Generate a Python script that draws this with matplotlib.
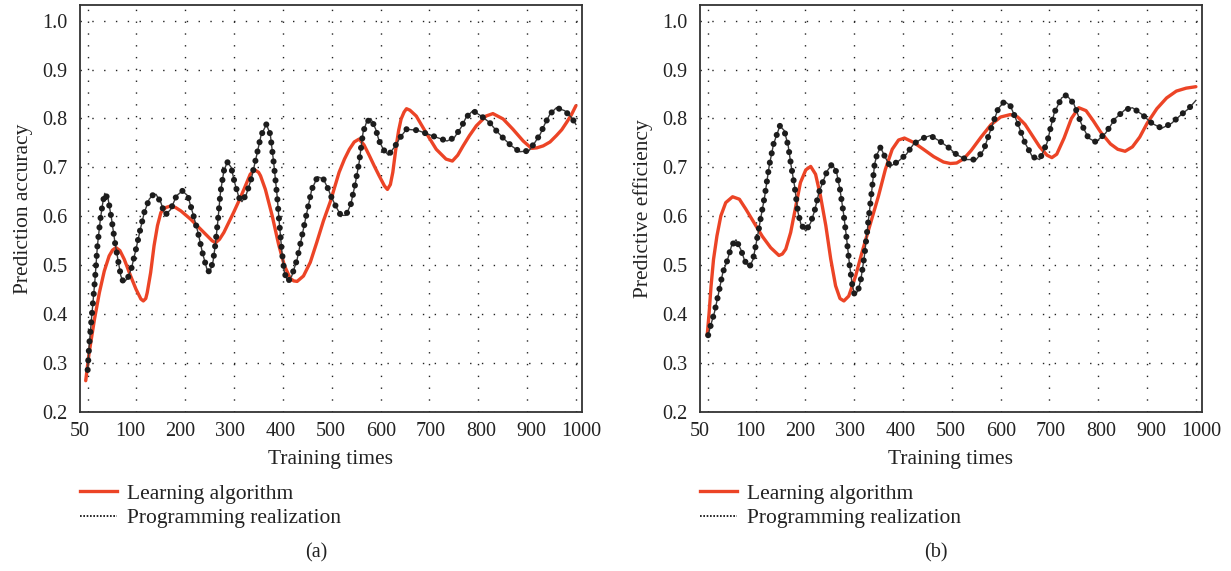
import matplotlib
matplotlib.use("Agg")
import matplotlib.pyplot as plt
from matplotlib.lines import Line2D

# ---------------- data (x = position along the tick scale, 0 = "50", 10 = "1000") -------------
tick_labels = ["50", "100", "200", "300", "400", "500", "600", "700", "800", "900", "1000"]
y_ticks = [0.2, 0.3, 0.4, 0.5, 0.6, 0.7, 0.8, 0.9, 1.0]

x_learn_a = [-0.04, 0.03, 0.14, 0.24, 0.34, 0.44, 0.51, 0.58, 0.66, 0.75, 0.88, 0.99, 1.09, 1.14,
             1.19, 1.22, 1.29, 1.36, 1.43, 1.50, 1.60, 1.70, 1.80, 1.91, 2.11, 2.31, 2.45, 2.55,
             2.62, 2.70, 2.79, 2.99, 3.10, 3.20, 3.33, 3.42, 3.50, 3.54, 3.64, 3.78, 3.91, 4.03,
             4.15, 4.22, 4.29, 4.42, 4.56, 4.69, 4.83, 4.97, 5.06, 5.15, 5.26, 5.36, 5.46, 5.56,
             5.66, 5.77, 5.87, 5.97, 6.08, 6.14, 6.20, 6.25, 6.32, 6.37, 6.42, 6.48, 6.53, 6.60,
             6.73, 6.93, 7.14, 7.34, 7.47, 7.58, 7.69, 7.82, 7.96, 8.16, 8.30, 8.51, 8.71, 8.92,
             9.09, 9.20, 9.33, 9.47, 9.60, 9.71, 9.81, 9.91, 10.0]
y_learn_a = [0.264, 0.321, 0.390, 0.444, 0.488, 0.519, 0.531, 0.536, 0.530, 0.512, 0.478, 0.451,
             0.431, 0.427, 0.432, 0.444, 0.485, 0.540, 0.581, 0.608, 0.618, 0.621, 0.618, 0.611,
             0.594, 0.574, 0.560, 0.550, 0.546, 0.553, 0.567, 0.608, 0.632, 0.655, 0.686, 0.695,
             0.690, 0.683, 0.655, 0.601, 0.543, 0.499, 0.473, 0.468, 0.467, 0.478, 0.506, 0.546,
             0.591, 0.630, 0.660, 0.690, 0.717, 0.737, 0.752, 0.758, 0.746, 0.724, 0.703, 0.683,
             0.662, 0.655, 0.665, 0.690, 0.744, 0.776, 0.799, 0.813, 0.820, 0.817, 0.805, 0.771,
             0.737, 0.717, 0.713, 0.725, 0.744, 0.765, 0.785, 0.805, 0.810, 0.799, 0.778, 0.754,
             0.739, 0.740, 0.744, 0.752, 0.765, 0.777, 0.792, 0.808, 0.826]

x_prog_a = [0.00, 0.03, 0.09, 0.15, 0.20, 0.26, 0.31, 0.35, 0.42, 0.49, 0.56, 0.63, 0.68, 0.735,
            0.82, 0.90, 0.99, 1.08, 1.16, 1.26, 1.33, 1.40, 1.50, 1.585, 1.70, 1.82, 1.94, 2.05,
            2.16, 2.26, 2.35, 2.44, 2.50, 2.57, 2.62, 2.67, 2.72, 2.79, 2.86, 2.94, 3.01, 3.10,
            3.16, 3.25, 3.35, 3.46, 3.55, 3.66, 3.74, 3.81, 3.88, 3.93, 3.98, 4.03, 4.10, 4.18,
            4.29, 4.39, 4.49, 4.59, 4.71, 4.83, 4.93, 4.98, 5.08, 5.185, 5.29, 5.39, 5.48, 5.56,
            5.64, 5.71, 5.80, 5.90, 5.97, 6.06, 6.16, 6.30, 6.40, 6.53, 6.75, 6.97, 7.16, 7.36,
            7.51, 7.65, 7.75, 7.89, 8.06, 8.23, 8.37, 8.52, 8.68, 8.85, 9.04, 9.16, 9.27, 9.36,
            9.47, 9.60, 9.77, 9.91, 10.0]
y_prog_a = [0.286, 0.335, 0.403, 0.471, 0.540, 0.594, 0.628, 0.647, 0.635, 0.594, 0.546, 0.506,
            0.478, 0.465, 0.473, 0.495, 0.533, 0.574, 0.608, 0.635, 0.643, 0.645, 0.628, 0.602,
            0.614, 0.642, 0.652, 0.642, 0.604, 0.567, 0.526, 0.493, 0.485, 0.509, 0.546, 0.594,
            0.649, 0.693, 0.711, 0.700, 0.669, 0.638, 0.630, 0.645, 0.676, 0.724, 0.765, 0.788,
            0.768, 0.710, 0.642, 0.581, 0.526, 0.485, 0.466, 0.478, 0.512, 0.560, 0.608, 0.655,
            0.681, 0.676, 0.655, 0.642, 0.621, 0.602, 0.602, 0.625, 0.666, 0.710, 0.771, 0.792,
            0.800, 0.778, 0.754, 0.736, 0.725, 0.744, 0.761, 0.778, 0.776, 0.768, 0.761, 0.754,
            0.761, 0.782, 0.802, 0.816, 0.805, 0.792, 0.775, 0.759, 0.744, 0.732, 0.734, 0.751,
            0.768, 0.788, 0.809, 0.822, 0.816, 0.802, 0.788]

x_learn_b = [-0.01, 0.03, 0.07, 0.12, 0.19, 0.27, 0.37, 0.51, 0.65, 0.78, 0.95, 1.12, 1.29, 1.46,
             1.53, 1.60, 1.70, 1.80, 1.90, 2.01, 2.11, 2.21, 2.31, 2.42, 2.52, 2.62, 2.71, 2.79,
             2.89, 3.03, 3.16, 3.33, 3.50, 3.64, 3.78, 3.91, 4.03, 4.22, 4.42, 4.63, 4.83, 4.97,
             5.10, 5.25, 5.40, 5.60, 5.80, 6.00, 6.20, 6.35, 6.50, 6.65, 6.80, 6.95, 7.05, 7.15,
             7.30, 7.45, 7.60, 7.75, 7.90, 8.05, 8.25, 8.40, 8.55, 8.70, 8.85, 9.00, 9.20, 9.40,
             9.60, 9.80, 10.0]
y_learn_b = [0.356, 0.403, 0.458, 0.512, 0.560, 0.601, 0.628, 0.640, 0.635, 0.615, 0.587, 0.559,
             0.536, 0.520, 0.523, 0.533, 0.567, 0.618, 0.669, 0.695, 0.702, 0.686, 0.642, 0.581,
             0.513, 0.458, 0.432, 0.427, 0.437, 0.478, 0.526, 0.584, 0.642, 0.696, 0.737, 0.756,
             0.760, 0.751, 0.737, 0.722, 0.711, 0.708, 0.709, 0.718, 0.735, 0.762, 0.787, 0.803,
             0.808, 0.803, 0.788, 0.765, 0.742, 0.725, 0.720, 0.727, 0.760, 0.800, 0.822, 0.816,
             0.795, 0.772, 0.748, 0.737, 0.733, 0.742, 0.762, 0.790, 0.820, 0.842, 0.856, 0.862,
             0.865]

x_prog_b = [0.01, 0.07, 0.14, 0.22, 0.31, 0.40, 0.49, 0.58, 0.68, 0.76, 0.85, 0.93, 1.01, 1.09,
            1.17, 1.26, 1.35, 1.42, 1.48, 1.57, 1.65, 1.71, 1.78, 1.85, 1.91, 2.01, 2.11, 2.19,
            2.28, 2.37, 2.45, 2.55, 2.64, 2.71, 2.78, 2.84, 2.905, 2.96, 3.01, 3.08, 3.14, 3.21,
            3.28, 3.35, 3.42, 3.47, 3.54, 3.64, 3.74, 3.91, 4.07, 4.22, 4.39, 4.56, 4.75, 4.93,
            5.10, 5.30, 5.50, 5.65, 5.80, 5.95, 6.08, 6.20, 6.35, 6.50, 6.65, 6.80, 6.95, 7.10,
            7.25, 7.35, 7.50, 7.65, 7.80, 7.95, 8.15, 8.35, 8.55, 8.70, 8.90, 9.10, 9.30, 9.50,
            9.70, 9.85, 10.0]
y_prog_b = [0.357, 0.380, 0.404, 0.441, 0.485, 0.509, 0.540, 0.552, 0.532, 0.509, 0.495, 0.512,
            0.553, 0.598, 0.642, 0.703, 0.748, 0.768, 0.785, 0.775, 0.744, 0.703, 0.662, 0.608,
            0.584, 0.570, 0.587, 0.611, 0.649, 0.673, 0.693, 0.707, 0.690, 0.655, 0.608, 0.560,
            0.502, 0.461, 0.439, 0.448, 0.472, 0.519, 0.581, 0.642, 0.707, 0.727, 0.741, 0.720,
            0.702, 0.713, 0.727, 0.748, 0.759, 0.765, 0.754, 0.741, 0.726, 0.716, 0.716, 0.735,
            0.778, 0.820, 0.835, 0.826, 0.790, 0.750, 0.722, 0.716, 0.750, 0.812, 0.842, 0.848,
            0.830, 0.790, 0.760, 0.752, 0.770, 0.800, 0.818, 0.822, 0.808, 0.790, 0.780, 0.790,
            0.808, 0.820, 0.837]

ylabels = ["Prediction accuracy", "Predictive efficiency"]
panel_tags = ["(a)", "(b)"]
legend_names = ["Learning algorithm", "Programming realization"]

# ---------------- style ----------------
RED = "#EC4426"
DOT = "#1c1c1c"
SERIF = ["Liberation Serif", "DejaVu Serif"]
plt.rcParams["font.family"] = SERIF

W, H = 1231, 571
fig = plt.figure(figsize=(W / 100, H / 100), dpi=100)

panels = [
    (80, x_learn_a, y_learn_a, x_prog_a, y_prog_a),
    (700, x_learn_b, y_learn_b, x_prog_b, y_prog_b),
]

for i, (left_px, xl, yl, xp, yp) in enumerate(panels):
    ax = fig.add_axes([left_px / W, 1 - 412 / H, 502 / W, 407 / H])
    ax.set_xlim(-0.143, 10.125)
    ax.set_ylim(0.2, 1.032)

    grid_kw = dict(color="#222222", linewidth=1.0, linestyle=(0, (1, 7.5)))
    ax.set_xticks(range(11), minor=True)
    ax.set_yticks(y_ticks)
    ax.set_yticklabels([f"{v:.1f}" for v in y_ticks])
    ax.grid(True, which="minor", axis="x", **grid_kw)
    ax.grid(True, which="major", axis="y", **grid_kw)
    ax.grid(False, which="major", axis="x")
    ax.tick_params(axis="x", which="minor", length=0)

    label_pos = [-0.157 + 1.0275 * k for k in range(len(tick_labels))]
    ax.set_xticks(label_pos)
    ax.set_xticklabels(tick_labels)
    ax.tick_params(axis="both", which="major", length=0, labelsize=14.5,
                   colors="#222222")
    ax.tick_params(axis="x", which="major", pad=7)
    ax.tick_params(axis="y", which="major", pad=9)
    ax.set_axisbelow(True)

    for s in ax.spines.values():
        s.set_color("#333333")
        s.set_linewidth(1.3)

    ax.plot(xl, yl, color=RED, linewidth=2.4, solid_capstyle="round", zorder=3)
    ax.plot(xp, yp, color="#3a3a3a", linewidth=1.0, zorder=4)
    ax.plot(xp, yp, color=DOT, linewidth=4.4, linestyle=(0, (0.01, 1.55)),
            dash_capstyle="round", zorder=5)

    ax.set_xlabel("Training times", fontsize=15.5, color="#222222")
    ax.xaxis.set_label_coords(0.5, -0.093)
    ax.set_ylabel(ylabels[i], fontsize=15.5, color="#222222")
    ax.yaxis.set_label_coords(-0.093, 0.5)

    handles = [Line2D([], [], color=RED, linewidth=2.4),
               Line2D([], [], color="black", linewidth=1.2, linestyle=(0, (1, 1)))]
    ax.legend(handles, legend_names, loc="upper left", bbox_to_anchor=(0.0, -0.176),
              frameon=False, fontsize=15.5, handlelength=1.7, handletextpad=0.5,
              borderpad=0.0, borderaxespad=0.0, labelspacing=0.2, labelcolor="#222222")

    fig.text((316 + 620 * i) / W, 1 - 553 / H, panel_tags[i], fontsize=14.5,
             ha="center", va="center", color="#222222")

fig.savefig("out.png", dpi=100)
